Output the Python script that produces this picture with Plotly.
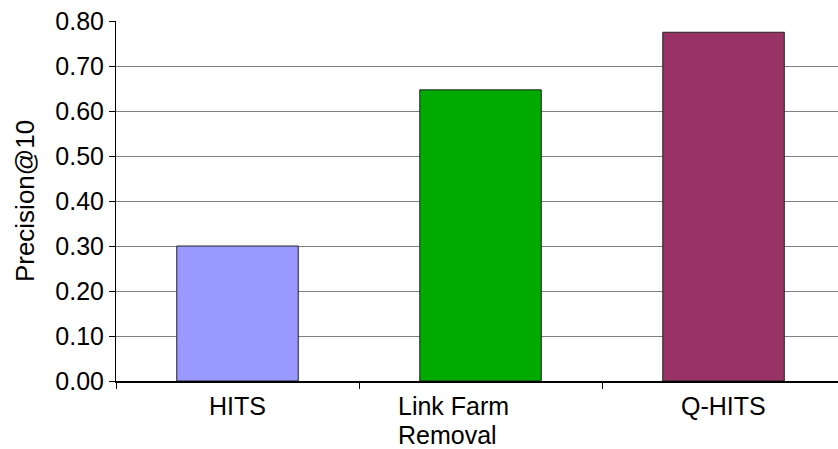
import plotly.graph_objects as go

categories = ["HITS", "Link Farm Removal", "Q-HITS"]
label_lines = [["HITS"], ["Link Farm", "Removal"], ["Q-HITS"]]
precision = [0.30, 0.647, 0.775]
bar_colors = ["#9999FF", "#00AA00", "#993366"]
y_ticks = [0.0, 0.1, 0.2, 0.3, 0.4, 0.5, 0.6, 0.7, 0.8]

FONT = "Liberation Sans, Arial, sans-serif"
LINE_STEP = 29

fig = go.Figure(
    go.Bar(
        x=categories,
        y=precision,
        width=0.5,
        marker=dict(color=bar_colors, line=dict(color="#222222", width=1)),
    )
)

# category labels: one annotation per line so wrapped labels stay tight and left-aligned
for cat, lines in zip(categories, label_lines):
    wrapped = len(lines) > 1
    for i, line in enumerate(lines):
        fig.add_annotation(
            x=cat, y=0, xref="x", yref="y",
            text=line, showarrow=False,
            xanchor="left" if wrapped else "center",
            xshift=-85 if wrapped else 0,
            yanchor="top", yshift=-9 - i * LINE_STEP,
            font=dict(family=FONT, size=25, color="black"),
        )

fig.update_layout(
    width=838, height=449,
    margin=dict(l=116, r=0, t=21, b=68),
    paper_bgcolor="white", plot_bgcolor="white",
    showlegend=False,
    font=dict(family=FONT, size=25, color="black"),
    bargap=0.5,
)
fig.update_xaxes(
    range=[-0.5, 2.471],
    showticklabels=False,
    tickson="boundaries",
    ticks="outside", ticklen=6, tickcolor="black",
    showline=True, linecolor="black", linewidth=1.5,
    showgrid=False, zeroline=False,
)
fig.update_yaxes(
    range=[0, 0.8],
    tickvals=y_ticks,
    tickformat=".2f",
    ticks="outside", ticklen=6, tickcolor="black",
    showline=True, linecolor="black", linewidth=1,
    showgrid=True, gridcolor="#808080", gridwidth=1,
    zeroline=False,
    title=dict(text="Precision@10", font=dict(family=FONT, size=26), standoff=13),
    tickfont=dict(family=FONT, size=25),
)

fig.write_html("out.html")
